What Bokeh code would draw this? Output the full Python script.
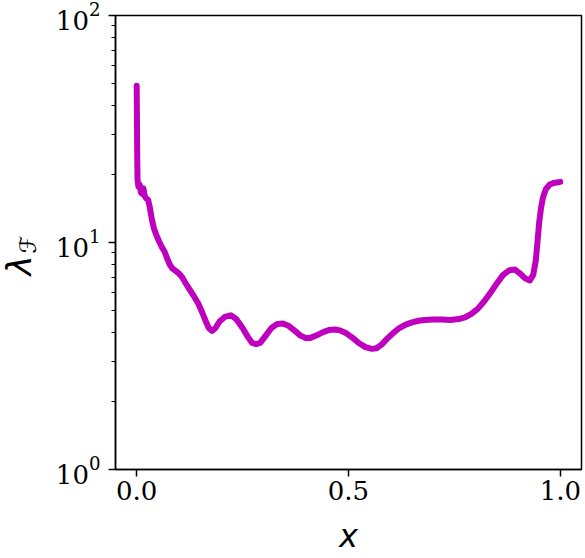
import math
from bokeh.plotting import figure
from bokeh.layouts import row
from bokeh.models import Range1d, FixedTicker
from bokeh.core.properties import value
from bokeh.embed import file_html
from bokeh.resources import INLINE

# Data
x_vals = [0.000, 0.0005, 0.001, 0.0015, 0.002, 0.004, 0.007, 0.010, 0.013, 0.016,
          0.019, 0.023, 0.027, 0.031, 0.036, 0.041, 0.047, 0.053, 0.060, 0.066,
          0.072, 0.078, 0.084, 0.092, 0.100, 0.108, 0.116, 0.125, 0.135, 0.145,
          0.155, 0.163, 0.170, 0.178, 0.186, 0.196, 0.208, 0.222, 0.235, 0.250,
          0.262, 0.272, 0.282, 0.292, 0.305, 0.318, 0.332, 0.345, 0.358, 0.372,
          0.386, 0.398, 0.410, 0.425, 0.440, 0.455, 0.468, 0.480, 0.495, 0.510,
          0.525, 0.540, 0.555, 0.566, 0.578, 0.592, 0.606, 0.620, 0.635, 0.650,
          0.665, 0.680, 0.700, 0.720, 0.740, 0.760, 0.775, 0.790, 0.805, 0.820,
          0.835, 0.850, 0.865, 0.880, 0.893, 0.905, 0.917, 0.928, 0.936, 0.942,
          0.946, 0.950, 0.954, 0.959, 0.966, 0.975, 0.985, 1.000]
lam_vals = [49.0, 38.0, 28.0, 22.0, 19.0, 17.6, 18.0, 16.6, 16.4, 17.3,
            16.0, 15.6, 15.4, 14.3, 12.6, 11.5, 10.7, 10.1, 9.5, 9.1,
            8.5, 8.0, 7.7, 7.5, 7.3, 7.0, 6.6, 6.2, 5.8, 5.4,
            4.9, 4.5, 4.2, 4.08, 4.2, 4.5, 4.7, 4.78, 4.6, 4.2,
            3.85, 3.62, 3.56, 3.62, 3.9, 4.2, 4.38, 4.4, 4.3, 4.1,
            3.9, 3.8, 3.8, 3.9, 4.03, 4.12, 4.14, 4.1, 3.98, 3.8,
            3.6, 3.46, 3.4, 3.42, 3.55, 3.78, 4.0, 4.2, 4.35, 4.45,
            4.52, 4.56, 4.58, 4.58, 4.56, 4.6, 4.68, 4.85, 5.1, 5.5,
            6.0, 6.6, 7.2, 7.55, 7.6, 7.3, 6.95, 6.8, 7.2, 8.3,
            10.0, 12.2, 14.0, 15.8, 17.2, 18.0, 18.3, 18.5]

x_ticks = [0.0, 0.5, 1.0]
y_ticks = [1, 10, 100]
y_minor = [2, 3, 4, 5, 6, 7, 8, 9, 20, 30, 40, 50, 60, 70, 80, 90]

TOTAL_H = 557
LABEL_W = 40

# ---- narrow panel holding the y-axis label (lambda with script-F subscript)
lab = figure(frame_width=LABEL_W, frame_height=TOTAL_H,
             x_range=Range1d(0, LABEL_W), y_range=Range1d(0, TOTAL_H),
             x_axis_location=None, y_axis_location=None,
             output_backend="svg", toolbar_location=None,
             min_border_left=0, min_border_right=0,
             min_border_top=0, min_border_bottom=0)
lab.xgrid.visible = False
lab.ygrid.visible = False
lab.outline_line_color = None
lab.text(x=[18], y=[TOTAL_H - 250], text=["λ"], angle=math.pi / 2,
         text_font=value("DejaVu Sans"), text_font_style="italic",
         text_font_size="34px", text_align="center",
         text_baseline="middle", text_color="black")
lab.text(x=[27], y=[TOTAL_H - 229], text=["ℱ"], angle=math.pi / 2,
         text_font=value("DejaVu Sans"), text_font_style="italic",
         text_font_size="23px", text_align="center",
         text_baseline="middle", text_color="black")

# ---- main plot
p = figure(frame_width=466, frame_height=454,
           x_range=Range1d(-0.05, 1.05), y_range=Range1d(1, 100),
           y_axis_type="log", output_backend="svg", toolbar_location=None,
           min_border_left=115 - LABEL_W, min_border_right=3, min_border_top=15,
           min_border_bottom=TOTAL_H - 15 - 454)

p.line(x_vals, lam_vals, line_color="#bf00bf", line_width=6,
       line_join="round", line_cap="round")

p.xgrid.visible = False
p.ygrid.visible = False
p.outline_line_color = "black"
p.outline_line_width = 1.5
p.outline_line_alpha = 1.0

for ax in (p.xaxis[0], p.yaxis[0]):
    ax.axis_line_color = "black"
    ax.axis_line_width = 1.5
    ax.major_tick_line_color = "black"
    ax.major_tick_line_width = 1.5
    ax.major_tick_in = 0
    ax.major_tick_out = 7
    ax.minor_tick_in = 0
    ax.minor_tick_out = 4
    ax.minor_tick_line_color = "black"
    ax.minor_tick_line_width = 1
    ax.major_label_text_font = "DejaVu Serif"
    ax.major_label_text_font_size = "26px"
    ax.major_label_text_color = "black"

p.xaxis[0].ticker = FixedTicker(ticks=x_ticks)
p.xaxis[0].minor_tick_line_color = None
p.xaxis[0].major_label_overrides = {0.0: "0.0", 0.5: "0.5", 1.0: "1.0"}
p.xaxis[0].major_label_standoff = 4
p.xaxis[0].axis_label = "x"
p.xaxis[0].axis_label_text_font = "DejaVu Sans"
p.xaxis[0].axis_label_text_font_style = "italic"
p.xaxis[0].axis_label_text_font_size = "32px"
p.xaxis[0].axis_label_text_color = "black"
p.xaxis[0].axis_label_standoff = 14

p.yaxis[0].ticker = FixedTicker(ticks=y_ticks, minor_ticks=y_minor)
p.yaxis[0].major_label_standoff = 8

layout = row(lab, p, spacing=0)
open("out.html", "w").write(file_html(layout, INLINE))
